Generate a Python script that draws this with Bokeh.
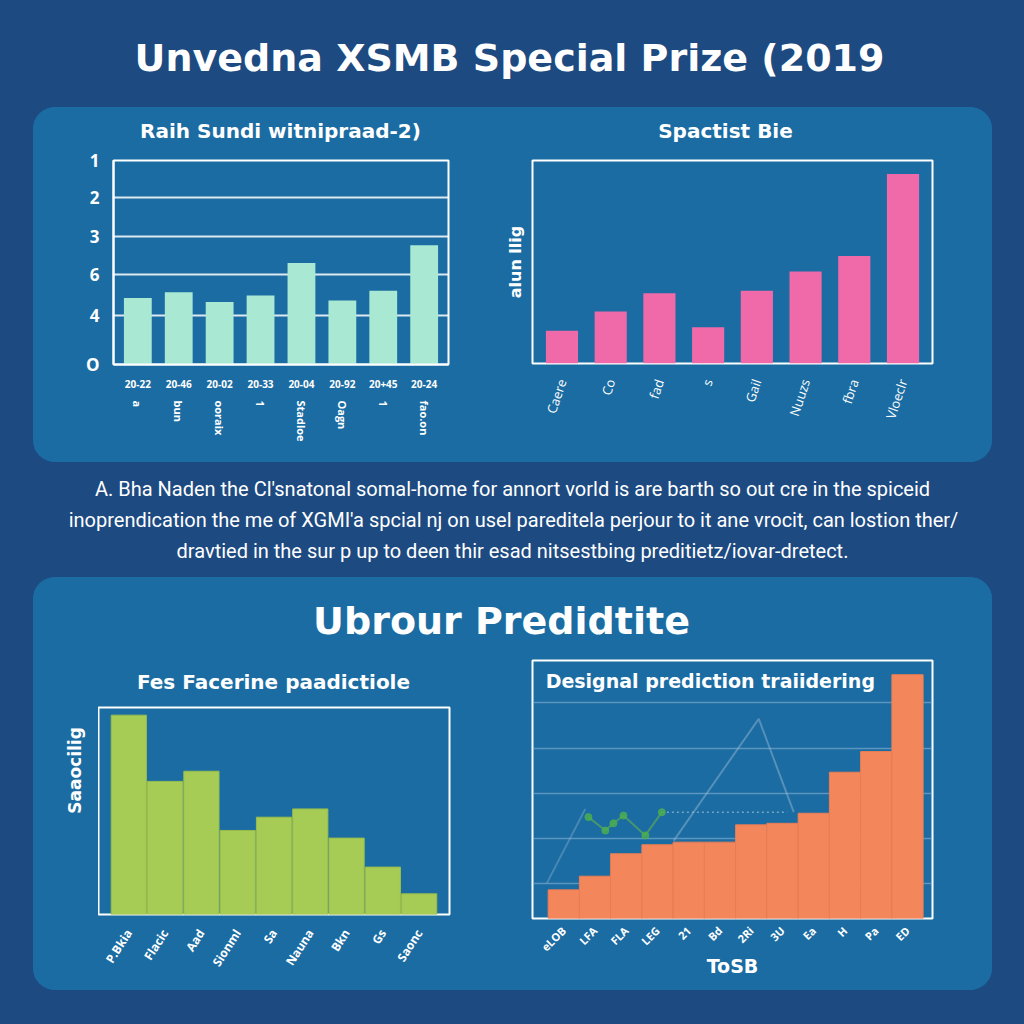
import math
from bokeh.plotting import figure
from bokeh.layouts import column, row
from bokeh.models import (FactorRange, Range1d, FixedTicker, CategoricalAxis, Label,
                          CustomJSTickFormatter)
from bokeh.core.properties import value
from bokeh.embed import file_html
from bokeh.resources import INLINE

BG = "#1d4a81"
PANEL = "#1b6ca2"
HEAD_FONT = "DejaVu Sans"
AX_FONT = "Open Sans"
BODY_FONT = "Roboto"

# ---------------- data ----------------
main_title = "Unvedna XSMB Special Prize (2019"

c1_title = "Raih Sundi witnipraad-2)"
c1_cats = ["20-22", "20-46", "20-02", "20-33", "20-04", "20-92", "20+45", "20-24"]
c1_sub = ["a", "bun", "ooraix", "1", "Stadloe", "Oagn", "1", "fao.on"]
c1_vals = [1.63, 1.77, 1.53, 1.69, 2.49, 1.57, 1.81, 2.92]
c1_ticks = [0, 1.2, 2.21, 3.14, 4.09, 5]
c1_tick_labels = ["O", "4", "6", "3", "2", "1"]

c2_title = "Spactist Bie"
c2_ylabel = "alun llig"
c2_cats = ["Caere", "Co", "fad", "s", "Gail", "Nuuzs", "fbra", "Vloeclr"]
c2_vals = [16.1, 25.6, 34.6, 17.9, 35.8, 45.3, 53.0, 93.3]

paragraph = [
    "A. Bha Naden the Cl'snatonal somal-home for annort vorld is are barth so out cre in the spiceid",
    "inoprendication the me of XGMI'a spcial nj on usel pareditela perjour to it ane vrocit, can lostion ther/",
    "dravtied in the sur p up to deen thir esad nitsestbing preditietz/iovar-dretect.",
]

section_title = "Ubrour Predidtite"

c3_title = "Fes Facerine paadictiole"
c3_ylabel = "Saaocilig"
c3_cats = ["P.Bkia", "Flacic", "Aad", "Sionml", "Sa", "Nauna", "Bkn", "Gs", "Saonc"]
c3_vals = [96.3, 64.3, 69.2, 40.6, 47.0, 51.0, 36.9, 22.9, 10.0]

c4_title = "Designal prediction traiidering"
c4_xlabel = "ToSB"
c4_pos = [1, 2, 3, 4, 5, 6, 7, 8, 9, 10, 11, 12]
c4_cats = ["eLOB", "LFA", "FLA", "LEG", "21", "Bd", "2Ri", "3U", "Ea", "H", "Pa", "ED"]
c4_vals = [11.1, 16.4, 25.1, 28.6, 29.6, 29.6, 36.3, 36.9, 40.8, 56.7, 64.7, 94.5]
c4_grid = [13.6, 31.0, 48.4, 65.9, 83.7]
c4_peak_x = [4.52, 7.24, 8.36]
c4_peak_y = [30.2, 77.4, 41.2]
c4_rise_x = [0.46, 1.69]
c4_rise_y = [13.7, 42.5]
c4_green_x = [1.79, 2.33, 2.59, 2.91, 3.61, 4.14]
c4_green_y = [39.3, 34.1, 36.9, 39.9, 32.2, 41.2]
c4_dot_x = [4.14, 8.15]
c4_dot_y = [41.2, 41.2]


# ---------------- helpers ----------------
def text_fig(w, h, fill, lines, xs, ys, size, bold=True, font=HEAD_FONT, angle=0.0):
    p = figure(width=w, height=h, output_backend="svg", toolbar_location=None,
               x_range=Range1d(0, w), y_range=Range1d(h, 0),
               x_axis_location=None, y_axis_location=None,
               background_fill_color=fill, border_fill_color=fill, min_border=0)
    p.outline_line_color = None
    p.grid.visible = False
    p.text(x=xs, y=ys, text=lines, text_font=value(font), angle=angle,
           text_font_style="bold" if bold else "normal", text_font_size=size,
           text_align="center", text_baseline="middle", text_color="white")
    return p


def chart_fig(w, h, x_range, y_range, left, right, top, bottom):
    p = figure(width=w, height=h, output_backend="svg", toolbar_location=None,
               x_range=x_range, y_range=y_range,
               background_fill_color=PANEL, border_fill_color=PANEL,
               min_border_left=left, min_border_right=right,
               min_border_top=top, min_border_bottom=bottom)
    p.outline_line_color = "white"
    p.outline_line_width = 2
    p.xgrid.visible = False
    for ax in p.axis:
        ax.major_tick_line_color = None
        ax.minor_tick_line_color = None
        ax.major_label_text_color = "white"
        ax.major_label_text_font = AX_FONT
        ax.major_label_text_font_style = "bold"
        ax.axis_label_text_color = "white"
        ax.axis_label_text_font = HEAD_FONT
        ax.axis_label_text_font_style = "bold"
    return p


# ---------------- title ----------------
title_fig = text_fig(1024, 107, BG, [main_title], [509], [57], "38px")

# ---------------- panel 1 chart titles ----------------
titles1_fig = text_fig(959, 40, PANEL, [c1_title, c2_title], [247, 692], [23, 23], "20px")

# ---------------- chart 1 ----------------
p1 = chart_fig(457, 315,
               FactorRange(*c1_cats, range_padding=0.095, range_padding_units="absolute"),
               Range1d(0, 5), 80, 42, 13, 98)
p1.vbar(x=c1_cats, top=c1_vals, width=0.68, color="#a9e8d2", line_color=None)
p1.yaxis.ticker = FixedTicker(ticks=c1_ticks)
p1.yaxis.major_label_overrides = dict(zip(c1_ticks, c1_tick_labels))
p1.yaxis.major_label_text_font_size = "17px"
p1.yaxis.major_label_standoff = 8
p1.yaxis.axis_line_color = "white"
p1.yaxis.axis_line_width = 2
p1.ygrid.grid_line_color = "white"
p1.ygrid.grid_line_alpha = 0.85
p1.ygrid.grid_line_width = 2
p1.xaxis.axis_line_color = "white"
p1.xaxis.axis_line_width = 2
p1.xaxis.major_label_text_font_size = "10px"
p1.xaxis.major_label_standoff = 9
sub_fmt = CustomJSTickFormatter(args=dict(cats=c1_cats, subs=c1_sub),
                                code="const i = cats.indexOf(tick); return i >= 0 ? subs[i] : '';")
ax1b = CategoricalAxis(formatter=sub_fmt,
                       major_label_orientation="vertical",
                       axis_line_color=None, major_tick_line_color=None,
                       minor_tick_line_color=None,
                       major_label_text_color="white", major_label_text_font=AX_FONT,
                       major_label_text_font_style="bold",
                       major_label_text_font_size="11px", major_label_standoff=4)
p1.add_layout(ax1b, "below")

# ---------------- chart 2 ----------------
p2 = chart_fig(502, 315,
               FactorRange(*c2_cats, range_padding=0.105, range_padding_units="absolute"),
               Range1d(0, 100), 42, 60, 13, 99)
p2.vbar(x=c2_cats, top=c2_vals, width=0.66, color="#f06aa9", line_color=None)
p2.ygrid.visible = False
p2.yaxis.ticker = FixedTicker(ticks=[])
p2.yaxis.axis_line_color = None
p2.yaxis.axis_label = c2_ylabel
p2.yaxis.axis_label_text_font_size = "16px"
p2.yaxis.axis_label_standoff = 8
p2.xaxis.axis_line_color = None
p2.xaxis.major_label_orientation = 1.25
p2.xaxis.major_label_text_font_size = "13px"
p2.xaxis.major_label_text_font_style = "normal"
p2.xaxis.major_label_standoff = 10

panel1 = column(titles1_fig, row(column(p1), column(p2)), margin=(0, 32, 0, 33),
                styles={"border-radius": "22px", "overflow": "hidden",
                        "background-color": PANEL})

# ---------------- paragraph ----------------
para_fig = text_fig(1024, 115, BG, paragraph, [512, 513, 512], [26, 57, 88],
                    "20px", bold=False, font=BODY_FONT)

# ---------------- section heading ----------------
head_fig = text_fig(959, 80, PANEL, [section_title], [468], [43], "38px")

# ---------------- chart 3 ----------------
title3_fig = text_fig(457, 48, PANEL, [c3_title], [240], [24], "20px")
ylab3_fig = text_fig(65, 285, PANEL, [c3_ylabel], [41], [65], "17px", angle=math.pi / 2)
p3 = chart_fig(392, 285,
               FactorRange(*c3_cats, range_padding=0.335, range_padding_units="absolute"),
               Range1d(0, 100), 0, 41, 2, 76)
p3.vbar(x=c3_cats, top=c3_vals, width=0.97, color="#a6cc55", line_color="#98bd4c")
p3.ygrid.visible = False
p3.yaxis.visible = False
p3.xaxis.axis_line_color = None
p3.xaxis.major_label_orientation = 1.0
p3.xaxis.major_label_text_font_size = "12px"
p3.xaxis.major_label_standoff = 10
block3 = column(title3_fig, row(column(ylab3_fig), column(p3)))

# ---------------- chart 4 ----------------
p4 = chart_fig(502, 333, Range1d(0, 12.8), Range1d(0, 100), 42, 60, 3, 72)
p4.vbar(x=c4_pos, top=c4_vals, width=1.0, color="#f4865b", line_color="#e97d54")
p4.line(c4_peak_x, c4_peak_y, line_color="#9dbdd6", line_alpha=0.45, line_width=2)
p4.line(c4_rise_x, c4_rise_y, line_color="#9dbdd6", line_alpha=0.35, line_width=2)
p4.line(c4_dot_x, c4_dot_y, line_color="#9dbdd6", line_alpha=0.7, line_width=1.5,
        line_dash="2 3")
p4.line(c4_green_x, c4_green_y, line_color="#5aa65a", line_alpha=0.7, line_width=2)
p4.scatter(c4_green_x, c4_green_y, size=7, color="#4caf50", alpha=0.8)
p4.yaxis.visible = False
p4.ygrid.ticker = FixedTicker(ticks=c4_grid)
p4.ygrid.grid_line_color = "#8fb8d8"
p4.ygrid.grid_line_alpha = 0.55
p4.ygrid.grid_line_width = 1.5
p4.xaxis.ticker = FixedTicker(ticks=c4_pos)
p4.xaxis.major_label_overrides = dict(zip(c4_pos, c4_cats))
p4.xaxis.axis_line_color = None
p4.xaxis.major_label_orientation = 0.785
p4.xaxis.major_label_text_font_size = "11px"
p4.xaxis.major_label_standoff = 4
p4.xaxis.axis_label = c4_xlabel
p4.xaxis.axis_label_text_font_size = "19px"
p4.xaxis.axis_label_standoff = -8
p4.add_layout(Label(x=0.42, y=91.9, text=c4_title, text_color="white",
                    text_font=HEAD_FONT, text_font_style="bold",
                    text_font_size="19px", text_baseline="middle"))

panel2 = column(head_fig, row(block3, column(p4)), margin=(0, 32, 34, 33),
                styles={"border-radius": "22px", "overflow": "hidden",
                        "background-color": PANEL})

root = column(title_fig, panel1, para_fig, panel2,
              styles={"background-color": BG})

open("out.html", "w").write(file_html(root, INLINE))
